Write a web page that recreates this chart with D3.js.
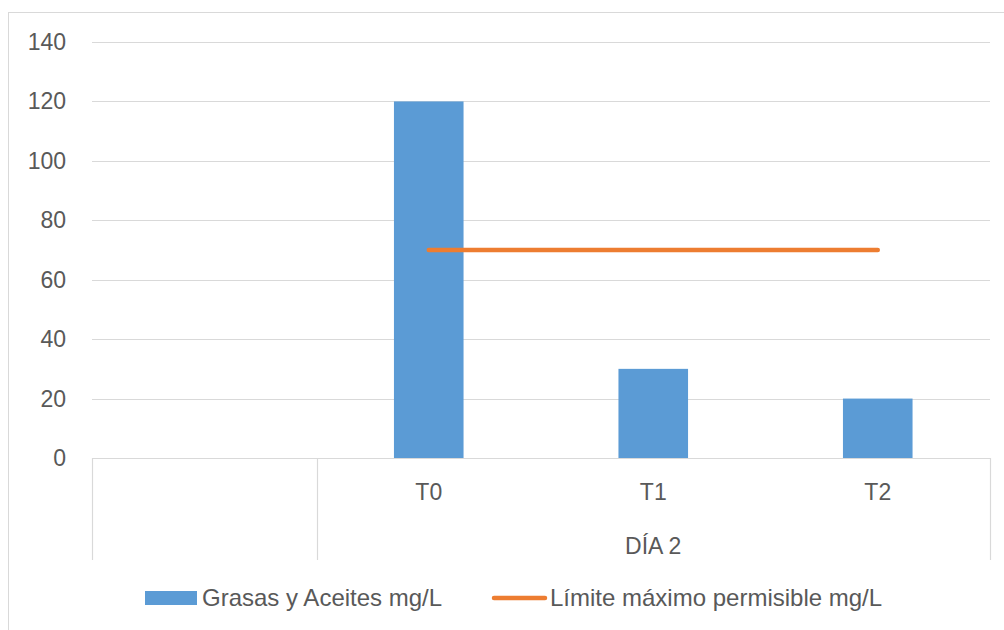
<!DOCTYPE html>
<html>
<head>
<meta charset="utf-8">
<script src="https://cdn.jsdelivr.net/npm/d3@7"></script>
<style>
  body { margin: 0; background: #fff; }
  svg { display: block; font-family: "Liberation Sans", Arial, sans-serif; }
</style>
</head>
<body>
<svg id="chart" width="1004" height="630"></svg>
<script>
// chart data
const categories = ["", "T0", "T1", "T2"];
const groups = [{ label: "", span: 1 }, { label: "DÍA 2", span: 3 }];
const grasas = [null, 120, 30, 20];
const limite = [null, 70, 70, 70];
const yTicks = [0, 20, 40, 60, 80, 100, 120, 140];
const seriesNames = ["Grasas y Aceites mg/L", "Límite máximo permisible mg/L"];

const blue = "#5b9bd5";
const orange = "#ed7d31";
const gridColor = "#d9d9d9";
const textColor = "#595959";

const svg = d3.select("#chart");

const plotLeft = 92, plotRight = 990, plotTop = 42, plotBottom = 458;

// outer frame (only top/left are inside the picture)
svg.append("rect")
    .attr("x", 8.5).attr("y", 12.5)
    .attr("width", 1100).attr("height", 700)
    .attr("fill", "none")
    .attr("stroke", gridColor)
    .attr("stroke-width", 1);

const x = d3.scaleBand()
    .domain(categories.map((d, i) => i))
    .range([plotLeft, plotRight])
    .paddingInner(0).paddingOuter(0);

const y = d3.scaleLinear()
    .domain([0, 140])
    .range([plotBottom, plotTop]);

// gridlines
svg.append("g")
    .selectAll("line")
    .data(yTicks)
    .join("line")
    .attr("x1", plotLeft).attr("x2", plotRight)
    .attr("y1", d => Math.round(y(d)) + 0.5)
    .attr("y2", d => Math.round(y(d)) + 0.5)
    .attr("stroke", gridColor)
    .attr("stroke-width", 1.2);

// y tick labels
svg.append("g")
    .selectAll("text")
    .data(yTicks)
    .join("text")
    .attr("x", 66)
    .attr("y", d => y(d))
    .attr("dy", "0.35em")
    .attr("text-anchor", "end")
    .attr("fill", textColor)
    .attr("font-size", 23)
    .text(d => d);

// bars
const barW = x.bandwidth() * 0.31;
svg.append("g")
    .selectAll("rect")
    .data(grasas.map((v, i) => ({ v, i })).filter(d => d.v != null))
    .join("rect")
    .attr("x", d => x(d.i) + (x.bandwidth() - barW) / 2)
    .attr("y", d => y(d.v))
    .attr("width", barW)
    .attr("height", d => y(0) - y(d.v))
    .attr("fill", blue);

// category axis: base line and group dividers
const axisBottom = 560;
svg.append("line")
    .attr("x1", plotLeft).attr("x2", plotRight)
    .attr("y1", plotBottom + 0.5).attr("y2", plotBottom + 0.5)
    .attr("stroke", gridColor).attr("stroke-width", 1.2);

let idx = 0;
const dividers = [0];
groups.forEach(g => { idx += g.span; dividers.push(idx); });
svg.append("g")
    .selectAll("line")
    .data(dividers)
    .join("line")
    .attr("x1", d => Math.round(d < categories.length ? x(d) : plotRight) + 0.5)
    .attr("x2", d => Math.round(d < categories.length ? x(d) : plotRight) + 0.5)
    .attr("y1", plotBottom).attr("y2", axisBottom)
    .attr("stroke", gridColor).attr("stroke-width", 1.2);

// category labels
svg.append("g")
    .selectAll("text")
    .data(categories)
    .join("text")
    .attr("x", (d, i) => x(i) + x.bandwidth() / 2)
    .attr("y", 492)
    .attr("dy", "0.35em")
    .attr("text-anchor", "middle")
    .attr("fill", textColor)
    .attr("font-size", 23)
    .text(d => d);

// group labels
let start = 0;
const groupPos = groups.map(g => {
  const s = start; start += g.span;
  return { label: g.label, x0: x(s), x1: start < categories.length ? x(start) : plotRight };
});
svg.append("g")
    .selectAll("text")
    .data(groupPos)
    .join("text")
    .attr("x", d => (d.x0 + d.x1) / 2)
    .attr("y", 546)
    .attr("dy", "0.35em")
    .attr("text-anchor", "middle")
    .attr("fill", textColor)
    .attr("font-size", 23)
    .text(d => d.label);

// limit line
const line = d3.line()
    .defined(d => d.v != null)
    .x(d => x(d.i) + x.bandwidth() / 2)
    .y(d => y(d.v));
svg.append("path")
    .datum(limite.map((v, i) => ({ v, i })))
    .attr("d", line)
    .attr("fill", "none")
    .attr("stroke", orange)
    .attr("stroke-width", 4.5)
    .attr("stroke-linecap", "round");

// legend
const legend = svg.append("g");
legend.append("rect")
    .attr("x", 145).attr("y", 591)
    .attr("width", 52).attr("height", 14)
    .attr("fill", blue);
legend.append("text")
    .attr("x", 202).attr("y", 598)
    .attr("dy", "0.35em")
    .attr("fill", textColor)
    .attr("font-size", 24)
    .text(seriesNames[0]);
legend.append("line")
    .attr("x1", 494).attr("x2", 545)
    .attr("y1", 598).attr("y2", 598)
    .attr("stroke", orange)
    .attr("stroke-width", 4.5)
    .attr("stroke-linecap", "round");
legend.append("text")
    .attr("x", 550).attr("y", 598)
    .attr("dy", "0.35em")
    .attr("fill", textColor)
    .attr("font-size", 24)
    .text(seriesNames[1]);
</script>
</body>
</html>
